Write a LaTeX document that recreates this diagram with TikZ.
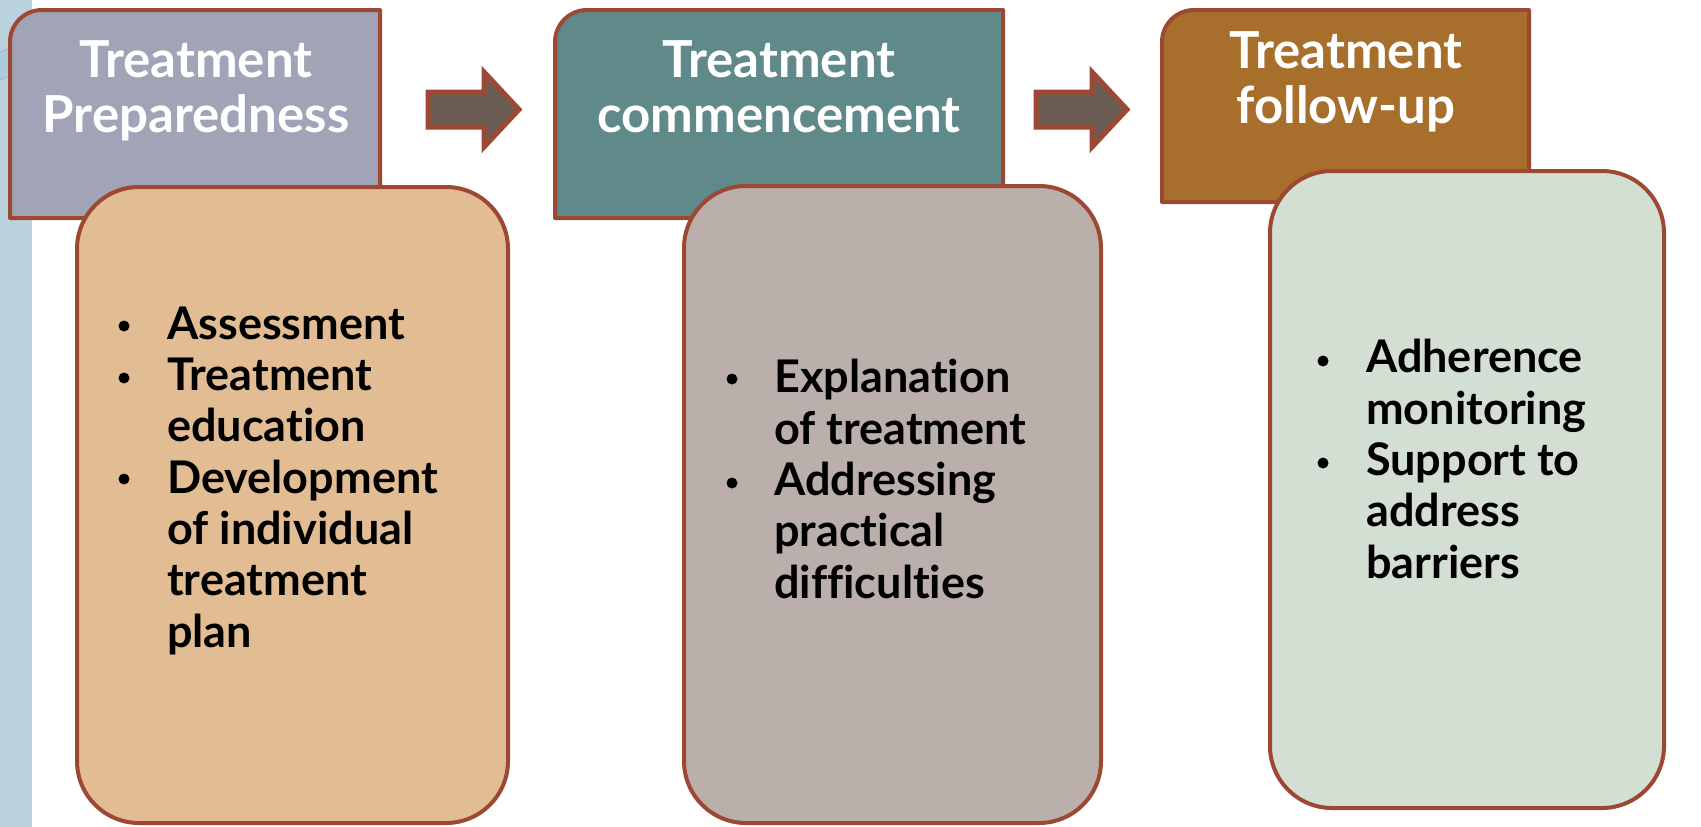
\documentclass[tikz,border=0pt]{standalone}
\usepackage{fontspec}
\setmainfont{Lato}[Ligatures={NoCommon}]
\definecolor{bordc}{HTML}{9C4833}
\definecolor{hdrA}{HTML}{A0A4B6}
\definecolor{hdrB}{HTML}{5F8A89}
\definecolor{hdrC}{HTML}{A76E2C}
\definecolor{bodA}{HTML}{E2BC92}
\definecolor{bodB}{HTML}{BAAFAA}
\definecolor{bodC}{HTML}{D3DFD2}
\definecolor{arrc}{HTML}{6B5D53}
\definecolor{stripc}{HTML}{BBD3DF}
\definecolor{stripl}{HTML}{A8CBDD}
\begin{document}
\begin{tikzpicture}[x=1pt,y=-1pt,
  hdrbox/.style={draw=bordc,line width=4pt,line join=round},
  bodbox/.style={draw=bordc,line width=4pt,rounded corners=62pt},
  arrbox/.style={draw=bordc,fill=arrc,line width=5pt,line join=miter},
  hdrtext/.style={text=white,font=\fontsize{51}{55}\selectfont\bfseries,align=center,inner sep=0pt,anchor=base},
  bodtext/.style={text=black,font=\fontsize{45}{51.3}\selectfont\bfseries,align=left,inner sep=0pt,anchor=base west},
  dot/.style={circle,fill=black,minimum size=11pt,inner sep=0pt}]
\useasboundingbox (0,0) rectangle (1701,827);
\fill[white] (0,0) rectangle (1701,827);
% left decorative strip
\fill[stripc] (0,0) rectangle (32,827);
\fill[stripl] (0,52) -- (10,48) -- (10,76) -- (0,80) -- cycle;
\draw[gray!60,line width=1pt] (0,52) -- (10,48);
\draw[gray!60,line width=1pt] (0,80) -- (10,76);
% column 1
\draw[hdrbox,fill=hdrA] (10,218) [rounded corners=32pt] -- (10,10) [sharp corners] -- (380,10) -- (380,218) -- cycle;
\node[hdrtext] (h1) at (196,132) {Treatment\\Preparedness};
\draw[bodbox,fill=bodA] (77,187) rectangle (508,823);
\node[dot] (b11) at (124,326) {};
\node[dot] (b12) at (124,378) {};
\node[dot] (b13) at (124,479) {};
\node[bodtext] (t1) at (167,647) {Assessment\\Treatment\\education\\Development\\of individual\\treatment\\plan};
% arrow 1
\draw[arrbox] (428,92) -- (484,92) -- (484,72) -- (519,109.5) -- (484,147) -- (484,127) -- (428,127) -- cycle;
% column 2
\draw[hdrbox,fill=hdrB] (555,218) [rounded corners=32pt] -- (555,10) [sharp corners] -- (1003,10) -- (1003,218) -- cycle;
\node[hdrtext] (h2) at (779,132) {Treatment\\commencement};
\draw[bodbox,fill=bodB] (684,186) rectangle (1101,823);
\node[dot] (b21) at (732,379) {};
\node[dot] (b22) at (732,483) {};
\node[bodtext] (t2) at (774,598) {Explanation\\of treatment\\Addressing\\practical\\difficulties};
% arrow 2
\draw[arrbox] (1036,92) -- (1092,92) -- (1092,72) -- (1127,109.5) -- (1092,147) -- (1092,127) -- (1036,127) -- cycle;
% column 3
\draw[hdrbox,fill=hdrC] (1162,202) [rounded corners=32pt] -- (1162,10) [sharp corners] -- (1529,10) -- (1529,202) -- cycle;
\node[hdrtext] (h3) at (1346,123) {Treatment\\follow-up};
\draw[bodbox,fill=bodC] (1270,171) rectangle (1664,808);
\node[dot] (b31) at (1323,361) {};
\node[dot] (b32) at (1323,463) {};
\node[bodtext] (t3) at (1366,578) {Adherence\\monitoring\\Support to\\address\\barriers};
\end{tikzpicture}
\end{document}
